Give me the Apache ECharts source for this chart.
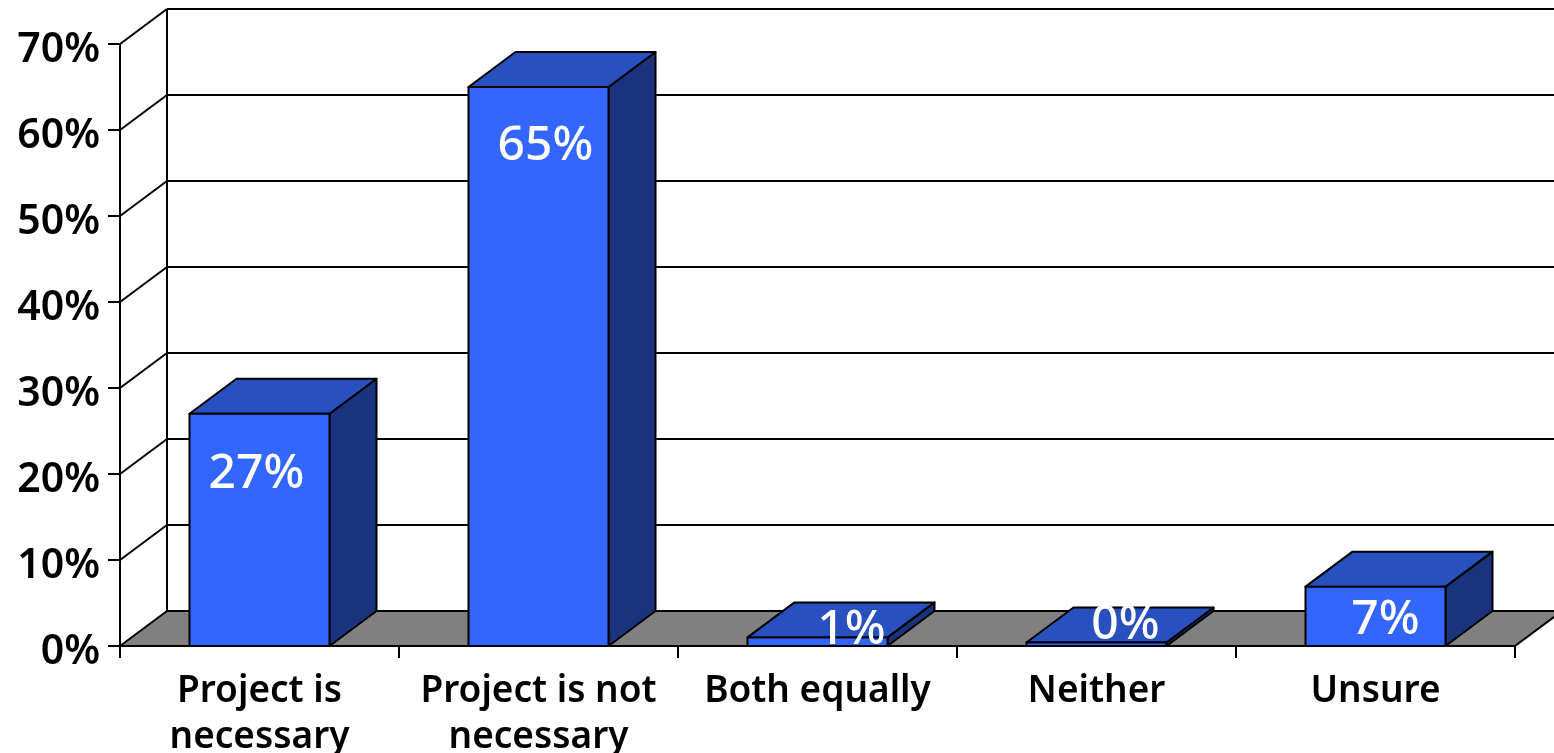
<!DOCTYPE html>
<html>
<head>
<meta charset="utf-8">
<style>html,body{margin:0;padding:0;background:#fff;overflow:hidden}#c{width:1554px;height:753px}</style>
<script src="https://cdn.jsdelivr.net/npm/echarts@6/dist/echarts.min.js"></script>
</head>
<body>
<div id="c"></div>
<script>
const categories = ['Project is\nnecessary', 'Project is not\nnecessary', 'Both equally', 'Neither', 'Unsure'];
const values = [27, 65, 1, 0.4, 6.9];
const valueLabels = ['27%', '65%', '1%', '0%', '7%'];
const yTicks = [0, 10, 20, 30, 40, 50, 60, 70];

// drawing settings (kept apart from the data)
const DEPTH_X = 47, DEPTH_Y = -35, BAR_RATIO = 140 / 279;
const labelShift = [[-3, 61], [7, 59], [34, -7], [29, -17], [10, 34]];
const FONT = '"Noto Sans", sans-serif';
const LINE = { stroke: '#000', lineWidth: 2, lineJoin: 'round' };

const chart = echarts.init(document.getElementById('c'), null, { renderer: 'canvas' });

function poly(points, fill, z2) {
  return { type: 'polygon', z2: z2 || 0, shape: { points }, style: Object.assign({ fill }, LINE) };
}
function line(a, b) {
  return { type: 'line', shape: { x1: a[0], y1: a[1], x2: b[0], y2: b[1] }, style: Object.assign({ fill: null }, LINE) };
}

function renderWall(params, api) {
  const v = api.value(0);
  const cs = params.coordSys;
  const y = api.coord([0, v])[1];
  const l = cs.x, r = cs.x + cs.width;
  const children = [];
  if (v === 0) {
    children.push(poly([[l, y], [l + DEPTH_X, y + DEPTH_Y], [r + DEPTH_X, y + DEPTH_Y], [r, y]], '#808080'));
    children.push(line([l + DEPTH_X, y + DEPTH_Y], [l + DEPTH_X, api.coord([0, 70])[1] + DEPTH_Y]));
  } else {
    children.push(line([l, y], [l + DEPTH_X, y + DEPTH_Y]));
    children.push(line([l + DEPTH_X, y + DEPTH_Y], [r + DEPTH_X, y + DEPTH_Y]));
  }
  return { type: 'group', children };
}

function renderBar(params, api) {
  const i = api.value(0), v = api.value(1);
  const top = api.coord([i, v]), base = api.coord([i, 0]);
  const w = api.size([1, 0])[0] * BAR_RATIO;
  const l = top[0] - w / 2, r = top[0] + w / 2, t = top[1], b = base[1];
  const shift = labelShift[i];
  return {
    type: 'group',
    children: [
      poly([[r, t], [r + DEPTH_X, t + DEPTH_Y], [r + DEPTH_X, b + DEPTH_Y], [r, b]], '#19337F'),
      poly([[l, t], [l + DEPTH_X, t + DEPTH_Y], [r + DEPTH_X, t + DEPTH_Y], [r, t]], '#2850BE'),
      poly([[l, t], [r, t], [r, b], [l, b]], '#3366FF'),
      {
        type: 'text', z2: 10,
        style: {
          x: top[0] + shift[0], y: t + shift[1], text: valueLabels[i],
          fill: '#fff', font: '500 48px ' + FONT, textAlign: 'center', textVerticalAlign: 'middle'
        }
      }
    ]
  };
}

chart.setOption({
  animation: false,
  backgroundColor: '#fff',
  grid: { left: 120, right: 39, top: 44, height: 602, containLabel: false, outerBoundsMode: 'none' },
  xAxis: {
    type: 'category', data: categories, z: 10,
    axisLine: { lineStyle: { color: '#000', width: 2 } },
    axisTick: { show: true, alignWithLabel: false, length: 12, lineStyle: { color: '#000', width: 2 } },
    axisLabel: { interval: 0, margin: 22, color: '#000', fontFamily: 'Noto Sans', fontWeight: 600, fontSize: 37, lineHeight: 46, verticalAlign: 'top' }
  },
  yAxis: {
    type: 'value', min: 0, max: 70, interval: 10, z: 10,
    axisLine: { show: true, lineStyle: { color: '#000', width: 2 } },
    axisTick: { show: true, length: 12, lineStyle: { color: '#000', width: 2 } },
    splitLine: { show: false },
    axisLabel: { margin: 20, color: '#000', fontFamily: 'Noto Sans', fontWeight: 600, fontSize: 41, verticalAlign: 'top', lineHeight: 12, formatter: '{value}%' }
  },
  series: [
    { type: 'custom', coordinateSystem: 'cartesian2d', renderItem: renderWall, clip: false, silent: true, z: 1,
      data: yTicks.map(v => [v]), encode: { y: 0 } },
    { type: 'custom', coordinateSystem: 'cartesian2d', renderItem: renderBar, clip: false, silent: true, z: 3,
      data: values.map((v, i) => [i, v]), encode: { x: 0, y: 1 } }
  ]
});
</script>
</body>
</html>
